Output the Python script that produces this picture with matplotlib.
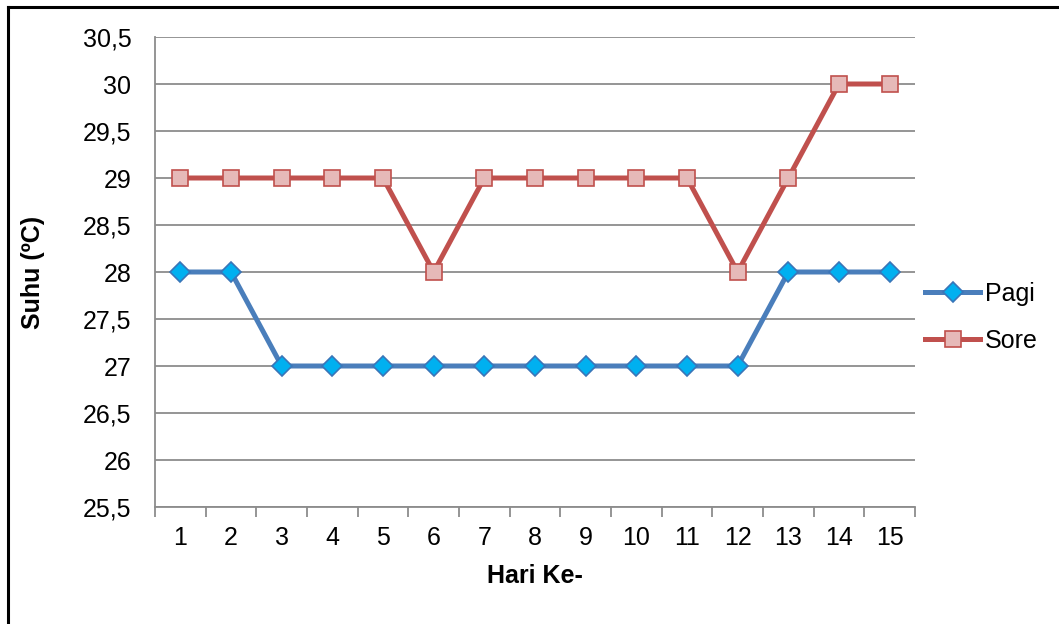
import numpy as np
import matplotlib.pyplot as plt
from matplotlib.lines import Line2D
from matplotlib.ticker import FuncFormatter

plt.rcParams['font.family'] = ['Liberation Sans', 'DejaVu Sans']

hari = np.arange(1, 16)
pagi = [28, 28, 27, 27, 27, 27, 27, 27, 27, 27, 27, 27, 28, 28, 28]
sore = [29, 29, 29, 29, 29, 28, 29, 29, 29, 29, 29, 28, 29, 30, 30]
yticks = np.arange(25.5, 30.51, 0.5)

fig = plt.figure(figsize=(10.59, 6.24), dpi=100)
ax = fig.add_axes([0.1464, 0.1875, 0.7176, 0.7532])

grid_c = '#8c8c8c'
for y in yticks:
    ax.axhline(y, color=grid_c, lw=1.3, zorder=1)

ax.plot(hari, pagi, color='#4a7ebb', lw=3.6, marker='D', ms=10.5,
        mfc='#00b0f0', mec='#3a75b8', mew=1.2, label='Pagi', zorder=3)
ax.plot(hari, sore, color='#c0504d', lw=3.6, marker='s', ms=12,
        mfc='#e6b9b8', mec='#c0504d', mew=1.2, label='Sore', zorder=3)

ax.set_xlim(0.5, 15.5)
ax.set_ylim(25.5, 30.5)
ax.set_yticks(yticks)
ax.yaxis.set_major_formatter(FuncFormatter(lambda v, p: ('%g' % v).replace('.', ',')))
ax.set_xticks(hari)
ax.set_xticks(np.arange(0.5, 15.6, 1), minor=True)
ax.tick_params(axis='x', which='major', length=0, labelsize=18, pad=14)
ax.tick_params(axis='x', which='minor', length=7, width=1.3, color=grid_c, direction='out')
ax.tick_params(axis='y', length=0, labelsize=18, pad=17)

for s in ['top', 'right']:
    ax.spines[s].set_visible(False)
for s in ['left', 'bottom']:
    ax.spines[s].set_color(grid_c)
    ax.spines[s].set_linewidth(1.3)

ax.set_xlabel('Hari Ke-', fontsize=18, fontweight='bold', labelpad=10)
ax.set_ylabel('Suhu (ºC)', fontsize=18, fontweight='bold', labelpad=27)

fig.legend(*ax.get_legend_handles_labels(), loc='center left',
           bbox_to_anchor=(925 / 1059, 1 - 317 / 624), frameon=False,
           fontsize=18, handlelength=2.2, handletextpad=0.2, labelspacing=0.92,
           borderpad=0, borderaxespad=0)

# frame around the chart (left and top edges)
fig.add_artist(Line2D([0.0076, 0.0076], [0, 1 - 7 / 624], transform=fig.transFigure,
                      color='black', lw=2.2))
fig.add_artist(Line2D([0.0076, 1], [1 - 7 / 624, 1 - 7 / 624], transform=fig.transFigure,
                      color='black', lw=2.2))

plt.savefig('out.png', dpi=100)
